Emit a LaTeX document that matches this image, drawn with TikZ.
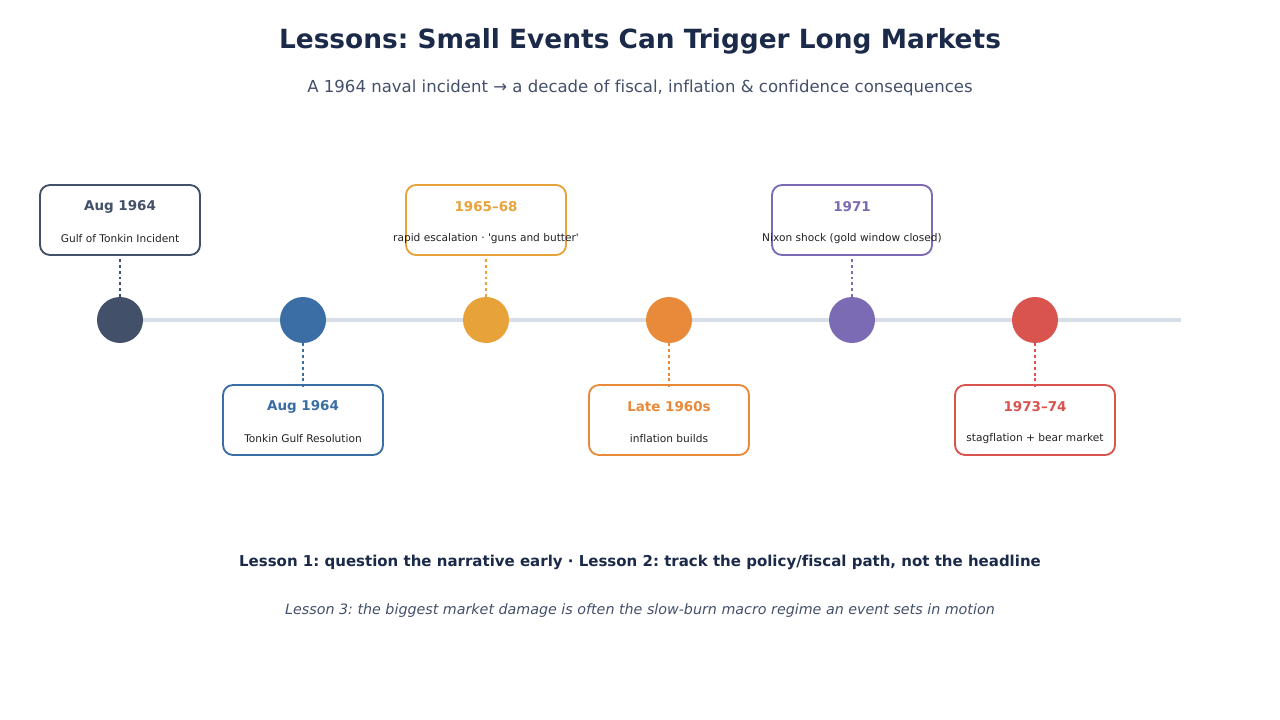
\documentclass[tikz,border=0pt]{standalone}
\usepackage{fontspec}
\setmainfont{DejaVu Sans}[Ligatures={TeXOff,NoCommon}]
\frenchspacing
\begin{document}
\begin{tikzpicture}[x=0.75pt,y=-0.75pt,
  evbox/.style={draw=#1, line width=1.4pt, rounded corners=7.5pt, minimum width=120pt, minimum height=52.5pt, fill=white},
  dot/.style={circle, fill=#1, minimum size=34.5pt, inner sep=0pt},
  stem/.style={draw=#1, dashed, dash pattern=on 2.2pt off 2.2pt, line width=1.1pt},
  evtitle/.style={text=#1, font=\bfseries\fontsize{10.1}{12}\selectfont},
  evsub/.style={text=bodytext, font=\fontsize{7.95}{9}\selectfont}
]
\definecolor{c1}{HTML}{425069}
\definecolor{c2}{HTML}{3A6EA5}
\definecolor{c3}{HTML}{E8A23A}
\definecolor{c4}{HTML}{E88A3A}
\definecolor{c5}{HTML}{7B6BB5}
\definecolor{c6}{HTML}{D9534F}
\definecolor{titlec}{HTML}{1C2A4A}
\definecolor{subc}{HTML}{44506A}
\definecolor{bodytext}{HTML}{222222}
\definecolor{axisc}{HTML}{D8DEE8}
\useasboundingbox[fill=white] (0,0) rectangle (1280,720);

\node[text=titlec, font=\bfseries\fontsize{19.8}{23}\selectfont] (title) at (640,41) {Lessons: Small Events Can Trigger Long Markets};
\node[text=subc, font=\fontsize{12.4}{14}\selectfont] (subtitle) at (640,88) {A 1964 naval incident → a decade of fiscal, inflation \& confidence consequences};

\coordinate (axl) at (120,320);
\coordinate (axr) at (1181,320);
\draw[axisc, line width=3pt] (axl) -- (axr);

% dots
\node[dot=c1] (d1) at (120,320) {};
\node[dot=c2] (d2) at (303,320) {};
\node[dot=c3] (d3) at (486,320) {};
\node[dot=c4] (d4) at (669,320) {};
\node[dot=c5] (d5) at (852,320) {};
\node[dot=c6] (d6) at (1035,320) {};

% boxes
\node[evbox=c1] (b1) at (120,220) {};
\node[evbox=c2] (b2) at (303,420) {};
\node[evbox=c3] (b3) at (486,220) {};
\node[evbox=c4] (b4) at (669,420) {};
\node[evbox=c5] (b5) at (852,220) {};
\node[evbox=c6] (b6) at (1035,420) {};

% texts
\node[evtitle=c1] (t1) at (120,207) {Aug 1964};
\node[evsub] (s1) at (120,239) {Gulf of Tonkin Incident};
\node[evtitle=c2] (t2) at (303,407) {Aug 1964};
\node[evsub] (s2) at (303,439) {Tonkin Gulf Resolution};
\node[evtitle=c3] (t3) at (486,207) {1965–68};
\node[evsub] (s3) at (486,239) {rapid escalation · 'guns and butter'};
\node[evtitle=c4] (t4) at (669,407) {Late 1960s};
\node[evsub] (s4) at (669,439) {inflation builds};
\node[evtitle=c5] (t5) at (852,207) {1971};
\node[evsub] (s5) at (852,239) {Nixon shock (gold window closed)};
\node[evtitle=c6] (t6) at (1035,407) {1973–74};
\node[evsub] (s6) at (1035,439) {stagflation + bear market};

% stems
\draw[stem=c1] (b1.south) ++(0,3) -- (d1.north);
\draw[stem=c2] (d2.south) -- ([yshift=-3]b2.north);
\draw[stem=c3] (b3.south) ++(0,3) -- (d3.north);
\draw[stem=c4] (d4.south) -- ([yshift=-3]b4.north);
\draw[stem=c5] (b5.south) ++(0,3) -- (d5.north);
\draw[stem=c6] (d6.south) -- ([yshift=-3]b6.north);

\node[text=titlec, font=\bfseries\fontsize{11.25}{13}\selectfont] (l12) at (640,562) {Lesson 1: question the narrative early · Lesson 2: track the policy/fiscal path, not the headline};
\node[text=subc, font=\itshape\fontsize{10.7}{12}\selectfont] (l3) at (640,611) {Lesson 3: the biggest market damage is often the slow-burn macro regime an event sets in motion};
\end{tikzpicture}
\end{document}
